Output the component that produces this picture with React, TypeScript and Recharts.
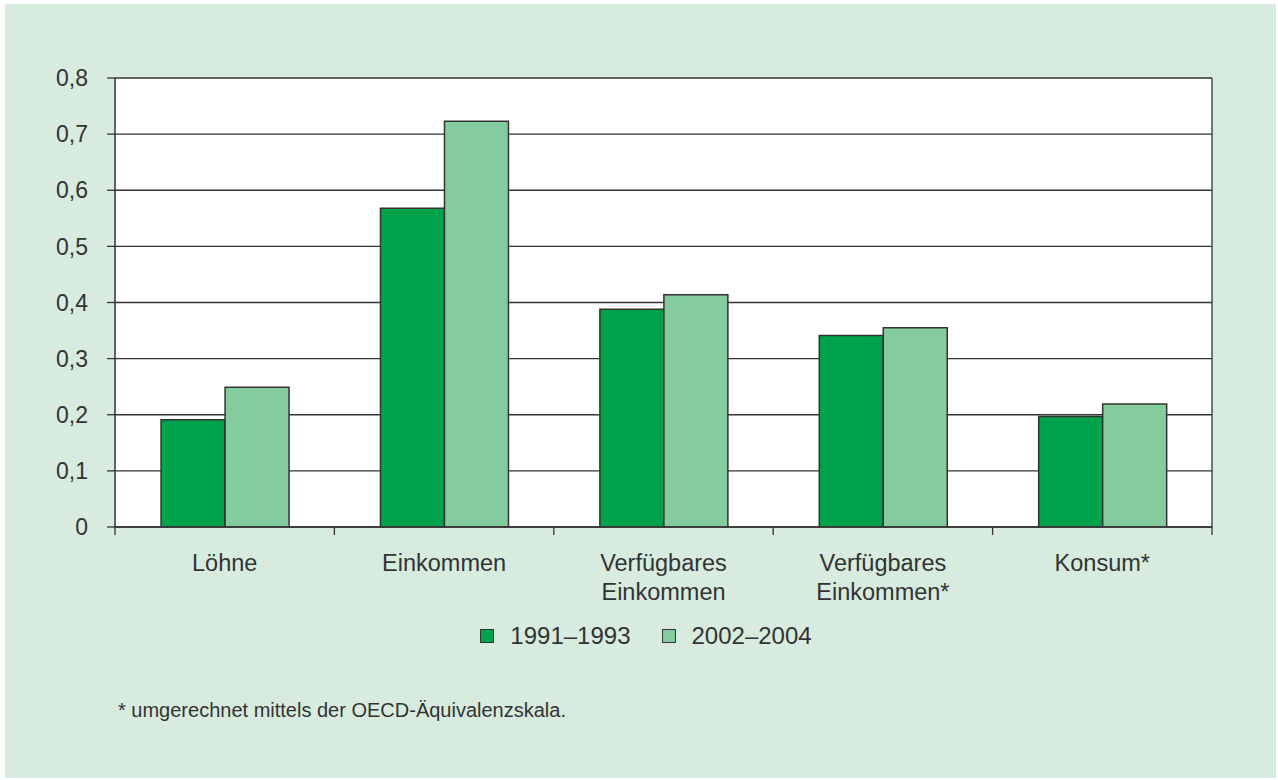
import { BarChart, Bar, XAxis, YAxis, CartesianGrid, Legend } from 'recharts';

const categories = [['Löhne'], ['Einkommen'], ['Verfügbares', 'Einkommen'], ['Verfügbares', 'Einkommen*'], ['Konsum*']];
const series1991 = [0.191, 0.568, 0.388, 0.341, 0.197];
const series2002 = [0.249, 0.723, 0.414, 0.355, 0.219];
const yTicks = [0, 0.1, 0.2, 0.3, 0.4, 0.5, 0.6, 0.7, 0.8];
const seriesNames = ['1991–1993', '2002–2004'];

const DARK = '#00a24c';
const LIGHT = '#84cb9d';
const INK = '#333333';
const FONT = '"Liberation Sans", Arial, Helvetica, sans-serif';

const W = 1278;
const H = 780;
const PLOT_LEFT = 115;
const PLOT_RIGHT = 1212;
const PLOT_TOP = 78;
const PLOT_BOTTOM = 527;
const BAND = (PLOT_RIGHT - PLOT_LEFT) / categories.length;

const data = categories.map((c, i) => ({
  key: c.join(' '),
  a: series1991[i],
  b: series2002[i],
}));

function CategoryTick(props: any) {
  const { x, y, index } = props;
  const lines = categories[index] || [];
  const last = index === categories.length - 1;
  return (
    <g>
      <line x1={x - BAND / 2} x2={x - BAND / 2} y1={y} y2={y + 8} stroke={INK} strokeWidth={1.3} />
      {last && <line x1={x + BAND / 2} x2={x + BAND / 2} y1={y} y2={y + 8} stroke={INK} strokeWidth={1.3} />}
      <text x={x} y={y + 44} textAnchor="middle" fill={INK} fontSize={23.5} fontFamily={FONT}>
        {lines.map((l, i) => (
          <tspan key={i} x={x} dy={i === 0 ? 0 : 29}>{l}</tspan>
        ))}
      </text>
    </g>
  );
}

function LegendContent() {
  const colors = [DARK, LIGHT];
  return (
    <div style={{ display: 'flex', justifyContent: 'center', alignItems: 'center', fontFamily: FONT, fontSize: 24, color: INK }}>
      {seriesNames.map((n, i) => (
        <div key={n} style={{ display: 'flex', alignItems: 'center', marginLeft: i === 0 ? 0 : 31 }}>
          <span style={{ display: 'inline-block', width: 12, height: 12, background: colors[i], border: `1.5px solid ${INK}`, marginRight: 16 }} />
          <span>{n}</span>
        </div>
      ))}
    </div>
  );
}

export default function App() {
  return (
    <div style={{ position: 'absolute', left: 0, top: 0, width: W, height: H, background: '#ffffff' }}>
      <div style={{ position: 'absolute', left: 5, top: 4, width: 1271, height: 774, background: '#d7ebdf' }} />
      <div style={{ position: 'absolute', left: 0, top: 0 }}>
        <BarChart
          width={W}
          height={H}
          data={data}
          margin={{ top: PLOT_TOP, right: W - PLOT_RIGHT, left: PLOT_LEFT - 70, bottom: H - PLOT_BOTTOM - 100 }}
          barCategoryGap="21%"
          barGap={0}
        >
          <CartesianGrid
            fill="#ffffff"
            stroke={INK}
            strokeWidth={1.3}
            vertical={true}
            verticalCoordinatesGenerator={({ offset }: any) => [offset.left + offset.width]}
          />
          <XAxis
            dataKey="key"
            height={100}
            tickSize={0}
            tickMargin={0}
            axisLine={{ stroke: INK, strokeWidth: 1.5 }}
            tick={<CategoryTick />}
            interval={0}
          />
          <YAxis
            width={70}
            domain={[0, 0.8]}
            ticks={yTicks}
            tickSize={8}
            tickMargin={19}
            axisLine={{ stroke: INK, strokeWidth: 1.5 }}
            tickLine={{ stroke: INK, strokeWidth: 1.3 }}
            tick={{ fill: INK, fontSize: 23, fontFamily: FONT }}
            tickFormatter={(v: number) => String(v).replace('.', ',')}
            allowDataOverflow
          />
          <Legend
            layout="horizontal"
            verticalAlign="middle"
            align="center"
            content={<LegendContent />}
            wrapperStyle={{ top: 622, left: 0, width: W + 14 }}
          />
          <Bar dataKey="a" name={seriesNames[0]} fill={DARK} stroke={INK} strokeWidth={1.5} isAnimationActive={false} />
          <Bar dataKey="b" name={seriesNames[1]} fill={LIGHT} stroke={INK} strokeWidth={1.5} isAnimationActive={false} />
        </BarChart>
      </div>
      <div style={{ position: 'absolute', left: 118, top: 699, fontFamily: FONT, fontSize: 20, color: INK }}>
        * umgerechnet mittels der OECD-Äquivalenzskala.
      </div>
    </div>
  );
}
